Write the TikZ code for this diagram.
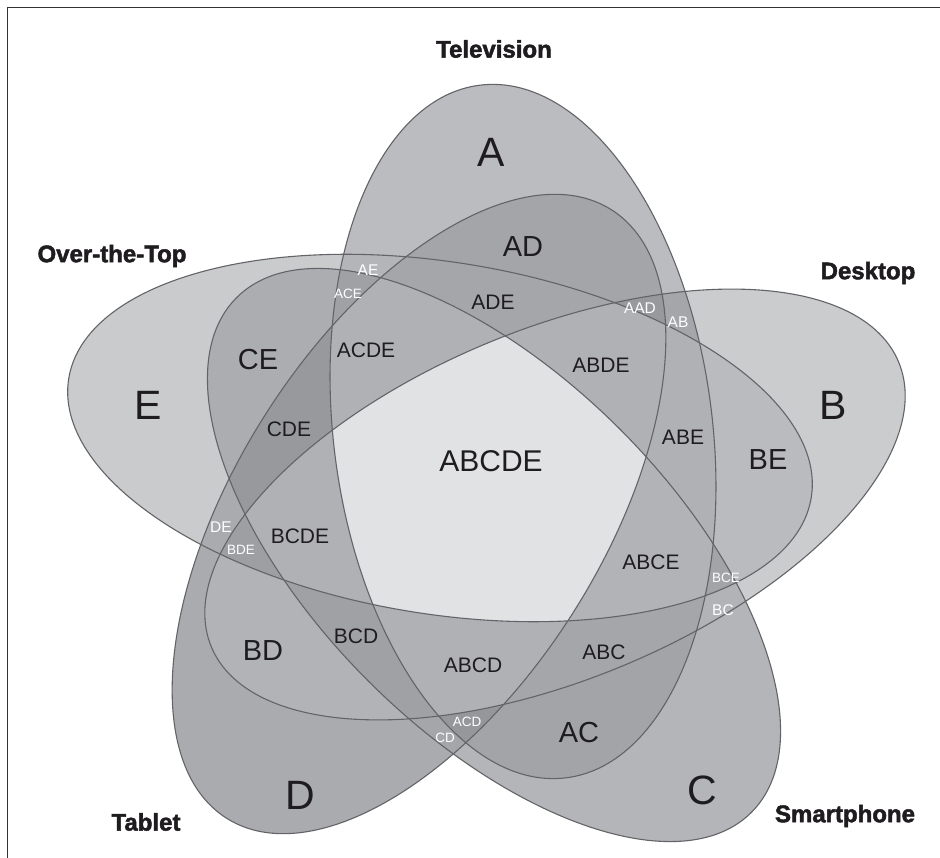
\documentclass[tikz,border=0pt]{standalone}
\usepackage{fontspec}
\setmainfont{Liberation Sans}
\newfontfamily\titlefont[FakeBold=2]{Liberation Sans Bold}
\definecolor{cA}{RGB}{187,188,192}
\definecolor{cB}{RGB}{203,204,206}
\definecolor{cC}{RGB}{180,181,185}
\definecolor{cD}{RGB}{170,171,175}
\definecolor{cE}{RGB}{202,203,205}
\definecolor{cAB}{RGB}{165,166,170}
\definecolor{cAC}{RGB}{163,164,168}
\definecolor{cAD}{RGB}{164,165,169}
\definecolor{cAE}{RGB}{180,181,185}
\definecolor{cBC}{RGB}{178,179,183}
\definecolor{cBD}{RGB}{178,179,183}
\definecolor{cBE}{RGB}{186,187,191}
\definecolor{cCD}{RGB}{165,166,170}
\definecolor{cCE}{RGB}{172,173,177}
\definecolor{cDE}{RGB}{170,171,175}
\definecolor{cABC}{RGB}{165,166,170}
\definecolor{cABD}{RGB}{152,153,157}
\definecolor{cABE}{RGB}{176,177,181}
\definecolor{cACD}{RGB}{150,151,155}
\definecolor{cACE}{RGB}{160,161,165}
\definecolor{cADE}{RGB}{165,166,170}
\definecolor{cBCD}{RGB}{160,161,165}
\definecolor{cBCE}{RGB}{163,164,168}
\definecolor{cBDE}{RGB}{158,159,163}
\definecolor{cCDE}{RGB}{152,153,157}
\definecolor{cABCD}{RGB}{176,177,181}
\definecolor{cABCE}{RGB}{178,179,183}
\definecolor{cABDE}{RGB}{176,177,181}
\definecolor{cACDE}{RGB}{176,177,181}
\definecolor{cBCDE}{RGB}{176,177,181}
\definecolor{cABCDE}{RGB}{225,226,228}
\definecolor{outline}{RGB}{100,100,104}
\definecolor{frame}{RGB}{50,50,50}
\definecolor{ink}{RGB}{30,28,30}
% ellipse paths in canvas coordinates (y downwards is negative)
\newcommand\pathA{\pgfpathellipse{\pgfpoint{523pt}{-431.5pt}}{\pgfpointpolar{-82.9}{349pt}}{\pgfpointpolar{7.1}{189.5pt}}}
\newcommand\pathB{\pgfpathellipse{\pgfpoint{555pt}{-504.5pt}}{\pgfpointpolar{22.5}{372pt}}{\pgfpointpolar{112.5}{175pt}}}
\newcommand\pathC{\pgfpathellipse{\pgfpoint{494pt}{-555pt}}{\pgfpointpolar{-45}{364pt}}{\pgfpointpolar{45}{178pt}}}
\newcommand\pathD{\pgfpathellipse{\pgfpoint{419pt}{-514pt}}{\pgfpointpolar{57.7}{360pt}}{\pgfpointpolar{147.7}{183pt}}}
\newcommand\pathE{\pgfpathellipse{\pgfpoint{440pt}{-438pt}}{\pgfpointpolar{-9.1}{376pt}}{\pgfpointpolar{80.9}{176pt}}}
\newcommand\clipin[1]{\csname path#1\endcsname\pgfusepath{clip}}
\newcommand\clipout[1]{\csname path#1\endcsname\pgfpathrectangle{\pgfpoint{-3000pt}{-3000pt}}{\pgfpoint{6000pt}{6000pt}}\pgfseteorule\pgfusepath{clip}\pgfsetnonzerorule}
\newcommand\cl[2]{\ifnum#2=1 \clipin{#1}\else\clipout{#1}\fi}
\newcommand\reg[6]{\begin{scope}\cl{A}{#1}\cl{B}{#2}\cl{C}{#3}\cl{D}{#4}\cl{E}{#5}\fill[#6] (-10,-10) rectangle (950,870);\end{scope}}
\newcommand\outl[1]{\begin{scope}\pgfsetstrokecolor{outline}\pgfsetlinewidth{1.1pt}\csname path#1\endcsname\pgfusepath{stroke}\end{scope}}
\begin{document}
\begin{tikzpicture}[x=1pt,y=-1pt,
  title/.style={font=\titlefont\fontsize{24}{24}\selectfont,text=ink},
  big/.style={font=\fontsize{41}{41}\selectfont,text=ink},
  two/.style={font=\fontsize{29}{29}\selectfont,text=ink},
  mid/.style={font=\fontsize{21}{21}\selectfont,text=ink},
  midl/.style={font=\fontsize{30}{30}\selectfont,text=ink},
  wht/.style={font=\fontsize{15.5}{15.5}\selectfont,text=white},
  whs/.style={font=\fontsize{13.5}{13.5}\selectfont,text=white}]
\useasboundingbox (0,0) rectangle (940,858);
\fill[white] (0,0) rectangle (940,858);
% regions
\reg10000{cA}\reg01000{cB}\reg00100{cC}\reg00010{cD}\reg00001{cE}
\reg11000{cAB}\reg10100{cAC}\reg10010{cAD}\reg10001{cAE}
\reg01100{cBC}\reg01010{cBD}\reg01001{cBE}
\reg00110{cCD}\reg00101{cCE}\reg00011{cDE}
\reg11100{cABC}\reg11010{cABD}\reg11001{cABE}\reg10110{cACD}\reg10101{cACE}
\reg10011{cADE}\reg01110{cBCD}\reg01101{cBCE}\reg01011{cBDE}\reg00111{cCDE}
\reg11110{cABCD}\reg11101{cABCE}\reg11011{cABDE}\reg10111{cACDE}\reg01111{cBCDE}
\reg11111{cABCDE}
% outlines
\outl{A}\outl{B}\outl{C}\outl{D}\outl{E}
% frame
\coordinate (fb) at (7.5,858);
\coordinate (fc) at (7.5,7.5);
\coordinate (fr) at (940,7.5);
\draw[frame,line width=1.8pt] (fb) -- (fc) -- (fr);
% titles
\node[title] (tA) at (494,49) {Television};
\node[title] (tE) at (112,256) {Over-the-Top};
\node[title] (tB) at (868,273) {Desktop};
\node[title] (tD) at (146,822) {Tablet};
\node[title] (tC) at (845,816) {Smartphone};
% big letters
\node[big] (lA) at (491,152) {A};
\node[big] (lB) at (833,405) {B};
\node[big] (lC) at (702,790) {C};
\node[big] (lD) at (300,795) {D};
\node[big] (lE) at (148,405) {E};
% two-set large
\node[two] (lAD) at (523,247) {AD};
\node[two] (lCE) at (258,360) {CE};
\node[two] (lBE) at (768,460) {BE};
\node[two] (lBD) at (263,651) {BD};
\node[two] (lAC) at (579,733) {AC};
% medium
\node[mid] (lADE) at (493,302) {ADE};
\node[mid] (lACDE) at (366,350) {ACDE};
\node[mid] (lABDE) at (601,365) {ABDE};
\node[mid] (lCDE) at (289,429) {CDE};
\node[mid] (lABE) at (683,437) {ABE};
\node[midl] (lABCDE) at (491,461) {ABCDE};
\node[mid] (lBCDE) at (300,536) {BCDE};
\node[mid] (lABCE) at (651,562) {ABCE};
\node[mid] (lBCD) at (356,636) {BCD};
\node[mid] (lABCD) at (473,665) {ABCD};
\node[mid] (lABC) at (604,652) {ABC};
% white small
\node[wht] (lAE) at (368,270) {AE};
\node[whs] (lACE) at (348,294) {ACE};
\node[wht] (lAAD) at (640,308) {AAD};
\node[wht] (lAB) at (678,322) {AB};
\node[wht] (lDE) at (221,527) {DE};
\node[whs] (lBDE) at (241,550) {BDE};
\node[whs] (lBCE) at (726,578) {BCE};
\node[wht] (lBC) at (723,610) {BC};
\node[whs] (lACD) at (467,722) {ACD};
\node[whs] (lCD) at (445,738) {CD};
\end{tikzpicture}
\end{document}
